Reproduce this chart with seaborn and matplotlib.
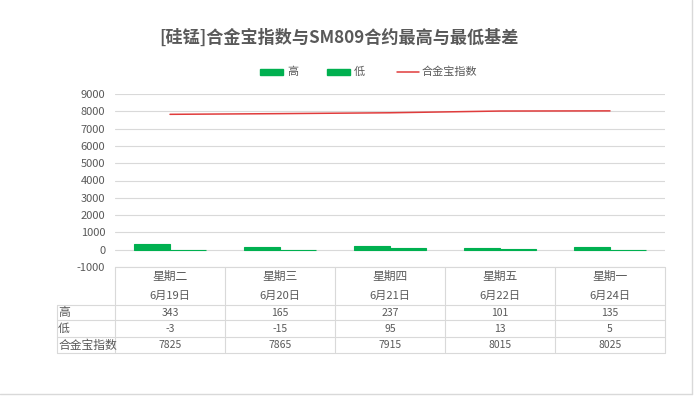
import seaborn as sns
import matplotlib.pyplot as plt
import pandas as pd
import numpy as np
from matplotlib.lines import Line2D
from matplotlib.patches import Rectangle

# data
days = ["星期二", "星期三", "星期四", "星期五", "星期一"]
dates = ["6月19日", "6月20日", "6月21日", "6月22日", "6月24日"]
high = [343, 165, 237, 101, 135]
low = [-3, -15, 95, 13, 5]
index_vals = [7825, 7865, 7915, 8015, 8025]
yticks = list(range(-1000, 9001, 1000))

GREEN = "#00B050"
RED = "#E03C3C"
GREY = "#595959"
LINE = "#D9D9D9"

sns.set_theme(style="white")
plt.rcParams['font.family'] = ['Noto Sans CJK SC', 'DejaVu Sans']

W, H = 700, 397
fig = plt.figure(figsize=(7, 3.97), dpi=100)

def fx(px):
    return px / W

def fy(py):
    return 1 - py / H

# plot area (pixels of the reference)
left, right, top, bottom = 115, 665, 94, 267
ax = fig.add_axes([fx(left), fy(bottom), fx(right) - fx(left), fy(top) - fy(bottom)])

df = pd.DataFrame({
    "day": days * 2,
    "series": ["高"] * len(days) + ["低"] * len(days),
    "value": high + low,
})
sns.barplot(data=df, x="day", y="value", hue="series", palette=[GREEN, GREEN],
            width=0.65, legend=False, ax=ax, saturation=1,
            edgecolor=GREEN, linewidth=0.8)
sns.lineplot(x=np.arange(len(days)), y=index_vals, color=RED, linewidth=1.1, ax=ax)

ax.set_xlim(-0.5, len(days) - 0.5)
ax.set_ylim(-1000, 9000)
ax.set_yticks(yticks)
ax.set_yticklabels([str(v) for v in yticks], fontsize=8, color=GREY)
ax.tick_params(axis="y", length=0, pad=7)
ax.set_xticks([])
ax.set_xlabel("")
ax.set_ylabel("")
for s in ax.spines.values():
    s.set_visible(False)
ax.yaxis.grid(True, color=LINE, linewidth=0.8)
ax.set_axisbelow(True)

# title
fig.text(fx(339), fy(38), "[硅锰]合金宝指数与SM809合约最高与最低基差",
         ha="center", va="center", fontsize=12.3, fontweight="bold", color=GREY)

# legend
fig.add_artist(Rectangle((fx(260), fy(75)), fx(23), fy(69) - fy(75),
                         color=GREEN, transform=fig.transFigure))
fig.text(fx(287), fy(72), "高", ha="left", va="center", fontsize=8, color=GREY)
fig.add_artist(Rectangle((fx(327), fy(75)), fx(23), fy(69) - fy(75),
                         color=GREEN, transform=fig.transFigure))
fig.text(fx(354), fy(72), "低", ha="left", va="center", fontsize=8, color=GREY)
fig.add_artist(Line2D([fx(397), fx(419)], [fy(72), fy(72)], color=RED, linewidth=1.1))
fig.text(fx(422), fy(72), "合金宝指数", ha="left", va="center", fontsize=8, color=GREY)

# data table under the plot
def hline(x0, x1, y):
    fig.add_artist(Line2D([fx(x0), fx(x1)], [fy(y), fy(y)], color=LINE, linewidth=0.8))

def vline(x, y0, y1):
    fig.add_artist(Line2D([fx(x), fx(x)], [fy(y0), fy(y1)], color=LINE, linewidth=0.8))

tab_left = 57
row_lines = [305, 320, 337, 353]
hline(left, right, bottom)
for y in row_lines:
    hline(tab_left, right, y)
col_w = (right - left) / len(days)
for i in range(len(days) + 1):
    vline(left + i * col_w, bottom, row_lines[-1])
vline(tab_left, row_lines[0], row_lines[-1])

for i in range(len(days)):
    cx = left + (i + 0.5) * col_w
    fig.text(fx(cx), fy(276), days[i], ha="center", va="center", fontsize=8.5, color=GREY)
    fig.text(fx(cx), fy(296), dates[i], ha="center", va="center", fontsize=8, color=GREY)

row_names = ["高", "低", "合金宝指数"]
row_vals = [high, low, index_vals]
for r, (name, vals) in enumerate(zip(row_names, row_vals)):
    cy = (row_lines[r] + row_lines[r + 1]) / 2
    fig.text(fx(tab_left + 1), fy(cy), name, ha="left", va="center", fontsize=8.5, color=GREY)
    for i, v in enumerate(vals):
        cx = left + (i + 0.5) * col_w
        fig.text(fx(cx), fy(cy), str(v), ha="center", va="center", fontsize=7.5, color=GREY)

# outer chart frame (right and bottom visible)
fig.add_artist(Line2D([fx(0), fx(692)], [fy(394), fy(394)], color=LINE, linewidth=1))
fig.add_artist(Line2D([fx(692), fx(692)], [fy(0), fy(394)], color=LINE, linewidth=1))

fig.savefig("out.png", dpi=100)
